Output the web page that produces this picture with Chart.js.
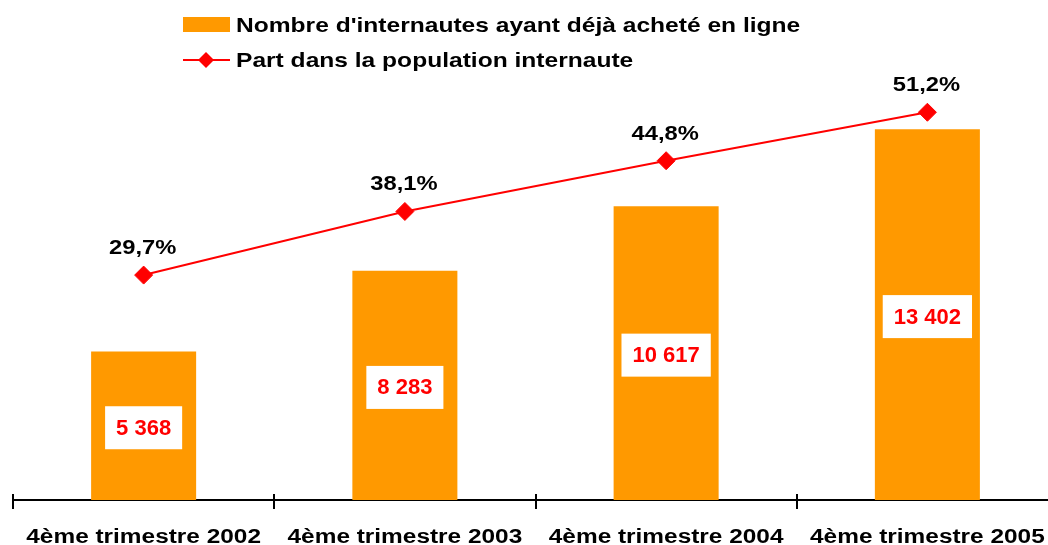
<!DOCTYPE html>
<html>
<head>
<meta charset="utf-8">
<script src="https://cdn.jsdelivr.net/npm/chart.js@4.4.1/dist/chart.umd.min.js"></script>
<style>
  html, body { margin: 0; padding: 0; background: #fff; overflow: hidden; }
  #wrap { position: relative; width: 1068px; height: 545px; }
</style>
</head>
<body>
<div id="wrap"><canvas id="chart"></canvas></div>
<script>
// data
const quarters = ['4ème trimestre 2002', '4ème trimestre 2003', '4ème trimestre 2004', '4ème trimestre 2005'];
const buyers = [5368, 8283, 10617, 13402];   // en milliers
const share = [29.7, 38.1, 44.8, 51.2];      // %
const buyersLabel = "Nombre d'internautes ayant déjà acheté en ligne";
const shareLabel = 'Part dans la population internaute';

const ORANGE = '#FF9900';
const RED = '#FF0000';
const FONT = '"Liberation Sans", Arial, sans-serif';

function fmtThousands(n) {
  return String(n).replace(/\B(?=(\d{3})+(?!\d))/g, ' ');
}
function fmtPct(v) {
  return v.toFixed(1).replace('.', ',') + '%';
}

// the original picture is a bit stretched horizontally, so text is scaled in x
function stretchedText(ctx, text, x, y, size, color, sx, align) {
  ctx.save();
  ctx.font = 'bold ' + size + 'px ' + FONT;
  ctx.fillStyle = color;
  ctx.textAlign = align || 'center';
  ctx.textBaseline = 'alphabetic';
  ctx.translate(x, y);
  ctx.scale(sx, 1);
  ctx.fillText(text, 0, 0);
  ctx.restore();
}

const labelsPlugin = {
  id: 'labels',
  afterDatasetsDraw(chart) {
    const ctx = chart.ctx;
    const lineMeta = chart.getDatasetMeta(0);
    const barMeta = chart.getDatasetMeta(1);

    // value boxes inside the bars
    barMeta.data.forEach((bar, i) => {
      const txt = fmtThousands(buyers[i]);
      const cy = (bar.y + bar.base) / 2 + 2;
      ctx.save();
      ctx.font = 'bold 22px ' + FONT;
      const w = ctx.measureText(txt).width + 22;
      ctx.fillStyle = '#fff';
      ctx.fillRect(bar.x - w / 2, cy - 21.5, w, 43);
      ctx.fillStyle = RED;
      ctx.textAlign = 'center';
      ctx.textBaseline = 'middle';
      ctx.fillText(txt, bar.x, cy + 1);
      ctx.restore();
    });

    // percentages above the points
    lineMeta.data.forEach((pt, i) => {
      stretchedText(ctx, fmtPct(share[i]), pt.x - 1, pt.y - 21, 21, '#000', 1.13);
    });
  },
  afterDraw(chart) {
    const ctx = chart.ctx;
    const xs = chart.scales.x;
    const step = xs.getPixelForValue(1) - xs.getPixelForValue(0);
    const base = chart.chartArea.bottom;

    // tick marks between categories
    ctx.save();
    ctx.strokeStyle = '#000';
    ctx.lineWidth = 2;
    for (let i = 0; i <= quarters.length; i++) {
      const x = Math.round(xs.getPixelForValue(0) - step / 2 + i * step);
      ctx.beginPath();
      ctx.moveTo(x, base - 6);
      ctx.lineTo(x, base + 9);
      ctx.stroke();
    }
    ctx.restore();

    // category labels
    quarters.forEach((q, i) => {
      stretchedText(ctx, q, xs.getPixelForValue(i), 543, 20, '#000', 1.22);
    });

    // legend (stacked, left aligned)
    ctx.save();
    ctx.fillStyle = ORANGE;
    ctx.fillRect(183, 17, 47, 15);
    ctx.strokeStyle = RED;
    ctx.lineWidth = 2;
    ctx.beginPath();
    ctx.moveTo(183, 60);
    ctx.lineTo(230, 60);
    ctx.stroke();
    ctx.fillStyle = RED;
    ctx.beginPath();
    ctx.moveTo(206, 52);
    ctx.lineTo(214, 60);
    ctx.lineTo(206, 68);
    ctx.lineTo(198, 60);
    ctx.closePath();
    ctx.fill();
    ctx.restore();
    stretchedText(ctx, buyersLabel, 236, 32, 21, '#000', 1.17, 'left');
    stretchedText(ctx, shareLabel, 236, 67, 21, '#000', 1.17, 'left');
  }
};

new Chart(document.getElementById('chart'), {
  data: {
    labels: quarters,
    datasets: [
      {
        type: 'line',
        label: shareLabel,
        data: share,
        yAxisID: 'y1',
        borderColor: RED,
        borderWidth: 2,
        backgroundColor: RED,
        pointStyle: 'rectRot',
        pointRadius: 9,
        pointHoverRadius: 9,
        pointBackgroundColor: RED,
        pointBorderColor: RED,
        pointBorderWidth: 1,
        tension: 0,
        fill: false
      },
      {
        type: 'bar',
        label: buyersLabel,
        data: buyers,
        yAxisID: 'y',
        backgroundColor: ORANGE,
        borderWidth: 0,
        barPercentage: 0.402,
        categoryPercentage: 1
      }
    ]
  },
  options: {
    responsive: true,
    maintainAspectRatio: false,
    animation: false,
    layout: { padding: { left: 13, right: 4, top: 85, bottom: 37 } },
    plugins: {
      legend: { display: false },
      tooltip: { enabled: false }
    },
    scales: {
      x: {
        display: true,
        offset: true,
        grid: { display: false },
        ticks: { display: false },
        border: { display: true, color: '#000', width: 2 }
      },
      y: { display: false, min: 0, max: 15000 },
      y1: { display: false, min: 0, max: 54.8, position: 'right' }
    }
  },
  plugins: [labelsPlugin]
});
</script>
</body>
</html>
